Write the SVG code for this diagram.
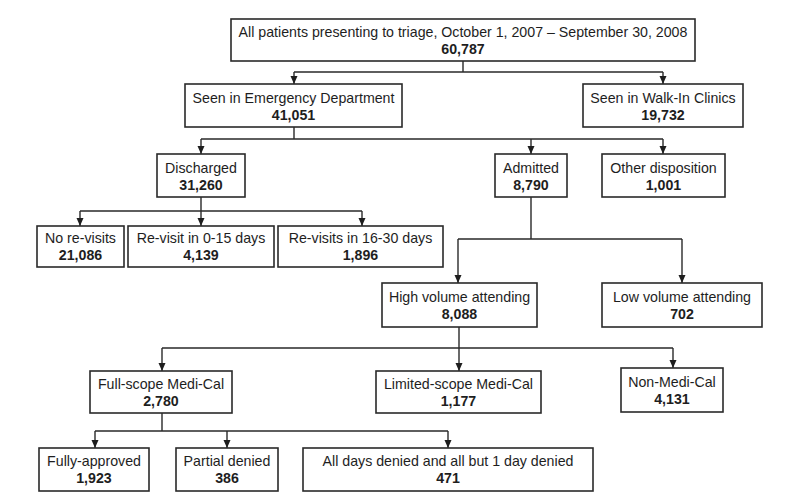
<svg xmlns="http://www.w3.org/2000/svg" width="792" height="500" viewBox="0 0 792 500">
<style>
.box{fill:#fff;stroke:#2a2a2a;stroke-width:1.6}
.t{font-family:"Liberation Sans",Arial,sans-serif;font-size:14.2px;fill:#1e1e1e;text-anchor:middle}
.b{font-weight:bold}
.c{fill:none;stroke:#2a2a2a;stroke-width:1.4}
</style>
<defs>
<marker id="ah" markerUnits="userSpaceOnUse" markerWidth="8" markerHeight="8" viewBox="0 0 8 8" refX="8" refY="4" orient="auto">
<path d="M0,0.5 L8,4 L0,7.5 Z" fill="#1e1e1e"/>
</marker>
</defs>
<rect width="792" height="500" fill="#fff"/>
<g id="connectors">
<path class="c" d="M463,61 V72 M294,72 H663"/>
<path class="c" d="M294,72 V84" marker-end="url(#ah)"/>
<path class="c" d="M663,72 V84" marker-end="url(#ah)"/>
<path class="c" d="M294,127 V139 M201,139 H663"/>
<path class="c" d="M201,139 V154" marker-end="url(#ah)"/>
<path class="c" d="M531,139 V154" marker-end="url(#ah)"/>
<path class="c" d="M663,139 V154" marker-end="url(#ah)"/>
<path class="c" d="M201,197 V211 M80,211 H362"/>
<path class="c" d="M80,211 V226" marker-end="url(#ah)"/>
<path class="c" d="M201,211 V226" marker-end="url(#ah)"/>
<path class="c" d="M362,211 V226" marker-end="url(#ah)"/>
<path class="c" d="M531,197 V239 M458,239 H682"/>
<path class="c" d="M458,239 V283" marker-end="url(#ah)"/>
<path class="c" d="M682,239 V283" marker-end="url(#ah)"/>
<path class="c" d="M459,327 V348 M162,348 H673"/>
<path class="c" d="M162,348 V371" marker-end="url(#ah)"/>
<path class="c" d="M459,348 V371" marker-end="url(#ah)"/>
<path class="c" d="M673,348 V368" marker-end="url(#ah)"/>
<path class="c" d="M162,413 V431 M95,431 H448"/>
<path class="c" d="M95,431 V448" marker-end="url(#ah)"/>
<path class="c" d="M227,431 V448" marker-end="url(#ah)"/>
<path class="c" d="M448,431 V448" marker-end="url(#ah)"/>
</g>
<g id="n-all"><rect class="box" x="231" y="19" width="464" height="42"/><text class="t" x="463" y="37">All patients presenting to triage, October 1, 2007 – September 30, 2008</text><text class="t b" x="463" y="54">60,787</text></g>
<g id="n-ed"><rect class="box" x="185" y="84" width="217" height="43"/><text class="t" x="293.5" y="103">Seen in Emergency Department</text><text class="t b" x="293.5" y="120">41,051</text></g>
<g id="n-walkin"><rect class="box" x="583" y="84" width="160" height="43"/><text class="t" x="663" y="103">Seen in Walk-In Clinics</text><text class="t b" x="663" y="120">19,732</text></g>
<g id="n-discharged"><rect class="box" x="157" y="154" width="88" height="43"/><text class="t" x="201" y="173">Discharged</text><text class="t b" x="201" y="190">31,260</text></g>
<g id="n-admitted"><rect class="box" x="495" y="154" width="72" height="43"/><text class="t" x="531" y="173">Admitted</text><text class="t b" x="531" y="190">8,790</text></g>
<g id="n-other"><rect class="box" x="602" y="154" width="123" height="43"/><text class="t" x="663.5" y="173">Other disposition</text><text class="t b" x="663.5" y="190">1,001</text></g>
<g id="n-norevisit"><rect class="box" x="37" y="226" width="87" height="41"/><text class="t" x="80.5" y="243">No re-visits</text><text class="t b" x="80.5" y="260">21,086</text></g>
<g id="n-revisit015"><rect class="box" x="128" y="226" width="146" height="41"/><text class="t" x="201" y="243">Re-visit in 0-15 days</text><text class="t b" x="201" y="260">4,139</text></g>
<g id="n-revisit1630"><rect class="box" x="278" y="226" width="165" height="41"/><text class="t" x="360.5" y="243">Re-visits in 16-30 days</text><text class="t b" x="360.5" y="260">1,896</text></g>
<g id="n-high"><rect class="box" x="382" y="283" width="155" height="44"/><text class="t" x="459.5" y="302">High volume attending</text><text class="t b" x="459.5" y="319">8,088</text></g>
<g id="n-low"><rect class="box" x="602" y="283" width="160" height="44"/><text class="t" x="682" y="302">Low volume attending</text><text class="t b" x="682" y="319">702</text></g>
<g id="n-full"><rect class="box" x="90" y="371" width="142" height="42"/><text class="t" x="161" y="389">Full-scope Medi-Cal</text><text class="t b" x="161" y="406">2,780</text></g>
<g id="n-limited"><rect class="box" x="376" y="371" width="165" height="42"/><text class="t" x="458.5" y="389">Limited-scope Medi-Cal</text><text class="t b" x="458.5" y="406">1,177</text></g>
<g id="n-nonmedical"><rect class="box" x="621" y="368" width="102" height="44"/><text class="t" x="672" y="387">Non-Medi-Cal</text><text class="t b" x="672" y="404">4,131</text></g>
<g id="n-fully"><rect class="box" x="39" y="448" width="110" height="43"/><text class="t" x="94" y="466">Fully-approved</text><text class="t b" x="94" y="483">1,923</text></g>
<g id="n-partial"><rect class="box" x="176" y="448" width="102" height="43"/><text class="t" x="227" y="466">Partial denied</text><text class="t b" x="227" y="483">386</text></g>
<g id="n-alldays"><rect class="box" x="303" y="448" width="290" height="43"/><text class="t" x="448" y="466">All days denied and all but 1 day denied</text><text class="t b" x="448" y="483">471</text></g>
</svg>
